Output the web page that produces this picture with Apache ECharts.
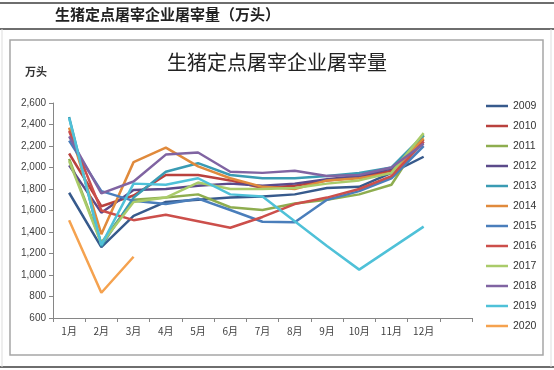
<!DOCTYPE html>
<html><head><meta charset="utf-8">
<script src="https://cdn.jsdelivr.net/npm/echarts@6/dist/echarts.min.js"></script>
<style>html,body{margin:0;padding:0;background:#fff;}#c{width:554px;height:370px;}</style>
</head><body><div id="c"></div>
<script>
const months = ['1月','2月','3月','4月','5月','6月','7月','8月','9月','10月','11月','12月',''];
const yTicks = [600,800,1000,1200,1400,1600,1800,2000,2200,2400,2600];
const years = ['2009','2010','2011','2012','2013','2014','2015','2016','2017','2018','2019','2020'];
const colors = ['#375A8C','#B9413E','#8EAD4F','#5B4A8A','#3A9BB3','#E08A3C','#4A7EBB','#CC4F4B','#AACB6A','#8064A2','#4FC1D8','#F5A24F'];
const v2009 = [1765,1260,1550,1680,1700,1720,1730,1750,1810,1820,1950,2100];
const v2010 = [2130,1640,1740,1930,1930,1880,1810,1830,1880,1910,1970,2260];
const v2011 = [2080,1300,1700,1720,1750,1630,1605,1665,1700,1750,1840,2300];
const v2012 = [2020,1580,1790,1800,1830,1850,1830,1850,1890,1920,1990,2240];
const v2013 = [2470,1270,1720,1960,2040,1930,1900,1900,1920,1950,2000,2300];
const v2014 = [2370,1380,2050,2185,2010,1900,1820,1800,1880,1900,1950,2270];
const v2015 = [2250,1780,1690,1660,1710,1605,1495,1490,1700,1780,1900,2200];
const v2016 = [2340,1600,1510,1560,1500,1440,1540,1660,1720,1800,1920,2240];
const v2017 = [2060,1290,1680,1720,1860,1800,1800,1810,1850,1880,1950,2320];
const v2018 = [2290,1760,1870,2120,2140,1960,1950,1970,1920,1930,2000,2220];
const v2019 = [2460,1280,1850,1840,1900,1750,1730,1500,1270,1050,1250,1450];
const v2020 = [1510,835,1170];
const allVals = [v2009,v2010,v2011,v2012,v2013,v2014,v2015,v2016,v2017,v2018,v2019,v2020];

const chart = echarts.init(document.getElementById('c'));
const series = years.map((y,i)=>({
  name:y, type:'line', data:allVals[i], symbol:'none', smooth:false,
  lineStyle:{width:2.5,color:colors[i]}, itemStyle:{color:colors[i]}
}));
chart.setOption({
  animation:false,
  graphic:[
    {type:'line',shape:{x1:0,y1:3,x2:554,y2:3},style:{stroke:'#6e6e6e',lineWidth:2}},
    {type:'line',shape:{x1:0,y1:29,x2:554,y2:29},style:{stroke:'#6e6e6e',lineWidth:2}},
    {type:'line',shape:{x1:0,y1:367,x2:554,y2:367},style:{stroke:'#6e6e6e',lineWidth:2}},
    {type:'line',shape:{x1:2,y1:29,x2:2,y2:367},style:{stroke:'#dddddd',lineWidth:1}},
    {type:'line',shape:{x1:551,y1:29,x2:551,y2:367},style:{stroke:'#dddddd',lineWidth:1}},
    {type:'rect',shape:{x:10,y:40,width:533,height:315},style:{fill:'none',stroke:'#a6a6a6',lineWidth:1.5}},
    {type:'text',left:55,top:7,style:{text:'生猪定点屠宰企业屠宰量（万头）',font:'bold 15px "Noto Sans CJK SC"',fill:'#222'}},
    {type:'text',left:25,top:66,style:{text:'万头',font:'bold 11px "Noto Sans CJK SC"',fill:'#333'}}
  ],
  title:{text:'生猪定点屠宰企业屠宰量',left:272,textAlign:'center',top:47,
    textStyle:{fontSize:20,fontWeight:'normal',color:'#222',fontFamily:'Noto Sans CJK SC'}},
  legend:{orient:'vertical',left:481,top:94,data:years,icon:'rect',itemWidth:22,itemHeight:2.5,itemGap:6,
    textStyle:{fontSize:10.5,lineHeight:14,color:'#333',fontFamily:'Liberation Sans'}},
  grid:{left:53,right:82,top:103,bottom:52,containLabel:false},
  xAxis:{type:'category',data:months,boundaryGap:true,
    axisLine:{lineStyle:{color:'#868686',width:1}},
    axisTick:{show:true,length:4,inside:false,lineStyle:{color:'#868686'}},
    axisLabel:{fontSize:10,color:'#404040',margin:8,fontFamily:'Noto Sans CJK SC',interval:0}},
  yAxis:{type:'value',min:600,max:2600,interval:200,
    axisLine:{show:true,lineStyle:{color:'#868686',width:1}},
    axisTick:{show:true,length:4,lineStyle:{color:'#868686'}},
    splitLine:{show:false},
    axisLabel:{fontSize:10,color:'#404040',margin:7,fontFamily:'Liberation Sans',
      formatter:v=>v.toLocaleString('en-US')}},
  series:series
});
</script></body></html>
